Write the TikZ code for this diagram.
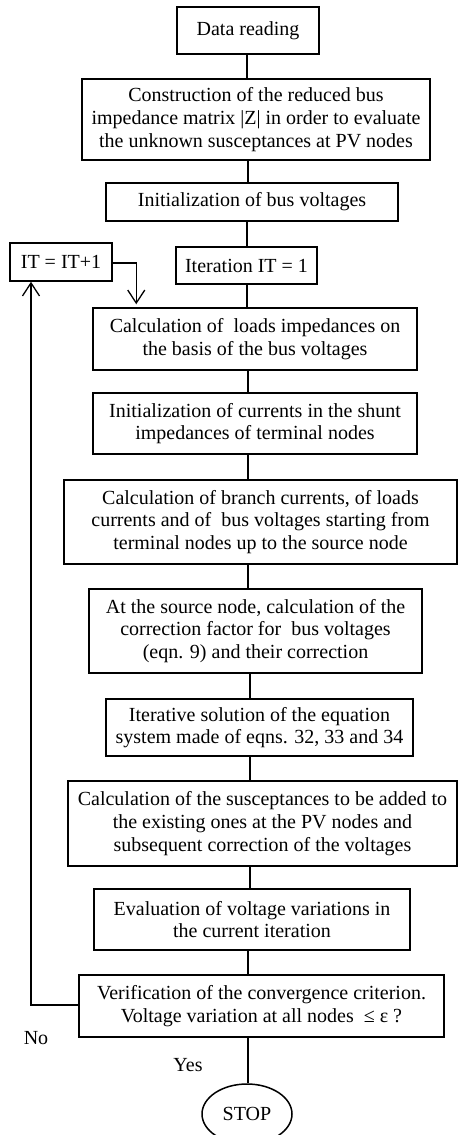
\documentclass[tikz,border=0pt]{standalone}
\usepackage{fontspec}
\setmainfont{Liberation Serif}
\usetikzlibrary{arrows.meta,shapes.geometric}
\begin{document}
\begin{tikzpicture}[x=1pt,y=1pt,
  every node/.style={font=\fontsize{20}{22.7}\selectfont},
  procbox/.style={draw,line width=1.5pt,align=center,inner sep=0pt},
  conn/.style={line width=1.3pt},
  arr/.style={line width=1.3pt,-{Straight Barb[length=13pt,width=17pt,line width=1.3pt]}}]
\clip (0,0) rectangle (458,-1135);
\useasboundingbox (0,0) rectangle (458,-1135);
\node[procbox,minimum width=142,minimum height=47] (d1) at (248,-30.5) {Data reading};
\node[procbox,minimum width=348,minimum height=81] (d2) at (256,-119.5) {Construction of the reduced bus\\impedance matrix |Z| in order to evaluate\\the unknown susceptances at PV nodes};
\node[procbox,minimum width=292,minimum height=38] (d3) at (252,-202) {Initialization of bus voltages};
\node[procbox,minimum width=102,minimum height=38] (itp) at (61,-262) {IT = IT+1};
\node[procbox,minimum width=141,minimum height=37] (d4) at (246.5,-265.5) {Iteration IT = 1};
\node[procbox,minimum width=324,minimum height=62] (d5) at (255,-339) {Calculation of \ loads impedances on\\the basis of the bus voltages};
\node[procbox,minimum width=324,minimum height=61] (d6) at (255,-423.5) {Initialization of currents in the shunt\\impedances of terminal nodes};
\node[procbox,minimum width=393,minimum height=84] (d7) at (260.5,-522) {Calculation of branch currents, of loads\\currents and of \ bus voltages starting from\\terminal nodes up to the source node};
\node[procbox,minimum width=333,minimum height=84] (d8) at (255.5,-631) {At the source node, calculation of the\\correction factor for \ bus voltages\\(eqn. 9) and their correction};
\node[procbox,minimum width=307,minimum height=57] (d9) at (259.5,-727.5) {Iterative solution of the equation\\system made of eqns. 32, 33 and 34};
\node[procbox,minimum width=389,minimum height=85] (d10) at (262.5,-823.5) {Calculation of the susceptances to be added to\\the existing ones at the PV nodes and\\subsequent correction of the voltages};
\node[procbox,minimum width=316,minimum height=61] (d11) at (252,-919.5) {Evaluation of voltage variations in\\the current iteration};
\node[procbox,minimum width=365,minimum height=62] (d12) at (261.5,-1006) {Verification of the convergence criterion.\\Voltage variation at all nodes \ ≤ ε ?};
\node[draw,line width=1.5pt,ellipse,minimum width=90,minimum height=60,inner sep=0pt] (stop) at (247,-1114) {STOP};
\node (no) at (36,-1038) {No};
\node (yes) at (188,-1065) {Yes};
\draw[conn] (247,-54) coordinate (a1) -- (a1 |- d2.north);
\draw[conn] (d2.south -| 248,0) -- (d3.north -| 248,0);
\draw[conn] (d3.south -| 247,0) -- (d4.north -| 247,0);
\draw[conn] (d4.south -| 247,0) -- (d5.north -| 247,0);
\draw[conn] (d5.south -| 248,0) -- (d6.north -| 248,0);
\draw[conn] (d6.south -| 248,0) -- (d7.north -| 248,0);
\draw[conn] (d7.south -| 248,0) -- (d8.north -| 248,0);
\draw[conn] (d8.south -| 250,0) -- (d9.north -| 250,0);
\draw[conn] (d9.south -| 250,0) -- (d10.north -| 250,0);
\draw[conn] (d10.south -| 250,0) -- (d11.north -| 250,0);
\draw[conn] (d11.south -| 248,0) -- (d12.north -| 248,0);
\draw[conn] (d12.south -| 248,0) -- (stop.north -| 248,0);
\draw[arr] (d12.west |- 0,-1005) -| ([xshift=-30pt]itp.south);
\draw[arr] (itp.east |- 0,-263) -| ([xshift=44pt,yshift=3pt]d5.north west);
\end{tikzpicture}
\end{document}
